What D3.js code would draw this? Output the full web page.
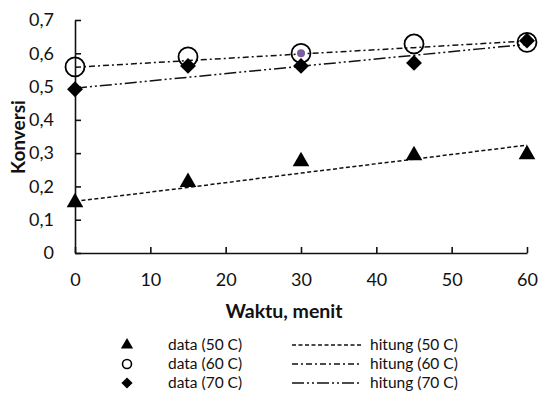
<!DOCTYPE html>
<html><head><meta charset="utf-8">
<script src="https://cdn.jsdelivr.net/npm/d3@7"></script>
<style>
html,body{margin:0;padding:0;background:#fff;}
svg{display:block;font-family:Lato,"Open Sans",sans-serif;}
</style></head>
<body><svg id="c" width="540" height="403"></svg>
<script>
const times = [0, 15, 30, 45, 60];
const data50 = [0.152, 0.213, 0.275, 0.293, 0.296];
const data60 = [0.559, 0.589, 0.600, 0.628, 0.633];
const data70 = [0.492, 0.562, 0.562, 0.571, 0.638];
const hitung50 = [0.155, 0.197, 0.240, 0.282, 0.324];
const hitung60 = [0.558, 0.578, 0.598, 0.617, 0.637];
const hitung70 = [0.495, 0.528, 0.561, 0.594, 0.627];
const extraPoint = {t: 30, v: 0.600};
const xTicks = [0, 10, 20, 30, 40, 50, 60];
const yTicks = [0, 0.1, 0.2, 0.3, 0.4, 0.5, 0.6, 0.7];
const legendLabels = ["data (50 C)", "data (60 C)", "data (70 C)"];
const legendLineLabels = ["hitung (50 C)", "hitung (60 C)", "hitung (70 C)"];

const svg = d3.select("#c");
const x = d3.scaleLinear().domain([0, 60]).range([75, 527]);
const y = d3.scaleLinear().domain([0, 0.7]).range([253, 20]);
const fmt = v => d3.format(".1f")(v).replace(".", ",");

// axes
const xAxis = svg.append("g").attr("transform", `translate(0,${y(0)})`)
  .call(d3.axisBottom(x).tickValues(xTicks).tickSizeInner(-6).tickSizeOuter(0).tickPadding(20));
const yAxis = svg.append("g").attr("transform", `translate(${x(0)},0)`)
  .call(d3.axisLeft(y).tickValues(yTicks).tickSizeInner(-6).tickSizeOuter(0).tickPadding(21)
    .tickFormat(v => v === 0 ? "0" : fmt(v)));
[xAxis, yAxis].forEach(a => {
  a.selectAll("path,line").attr("stroke", "#111").attr("stroke-width", 1.6);
  a.selectAll("text").attr("font-size", 18).attr("fill", "#111").attr("font-family", "Lato, sans-serif");
});

// lines
const dashes = ["4,2.5", "6,3,2,3", "12,3,2,3,2,3"];
const hitung = [hitung50, hitung60, hitung70];
const line = d3.line().x((d, i) => x(times[i])).y(d => y(d));
hitung.forEach((h, k) => {
  svg.append("path").datum(h).attr("d", line).attr("fill", "none")
    .attr("stroke", "#111").attr("stroke-width", 1.5).attr("stroke-dasharray", dashes[k]);
});

// markers
const tri = d3.symbol().type(d3.symbolTriangle).size(120);
svg.append("g").selectAll("path").data(data50).join("path")
  .attr("d", tri).attr("fill", "#000")
  .attr("transform", (d, i) => `translate(${x(times[i])},${y(d)})`);
svg.append("g").selectAll("circle").data(data60).join("circle")
  .attr("cx", (d, i) => x(times[i])).attr("cy", d => y(d)).attr("r", 9.5)
  .attr("fill", "none").attr("stroke", "#000").attr("stroke-width", 1.8);
svg.append("circle").attr("cx", x(extraPoint.t)).attr("cy", y(extraPoint.v)).attr("r", 4)
  .attr("fill", "#7b5e9e");
const dia = d3.symbol().type(d3.symbolDiamond2).size(160);
svg.append("g").selectAll("path").data(data70).join("path")
  .attr("d", dia).attr("fill", "#000")
  .attr("transform", (d, i) => `translate(${x(times[i])},${y(d)})`);

// axis titles
svg.append("text").attr("x", 284).attr("y", 318).attr("text-anchor", "middle")
  .attr("font-size", 19.5).attr("font-weight", "bold").attr("fill", "#111").text("Waktu, menit");
svg.append("text").attr("transform", "translate(25,137) rotate(-90)").attr("text-anchor", "middle")
  .attr("font-size", 19).attr("font-weight", "bold").attr("fill", "#111").text("Konversi");

// legend
const rows = [345, 364, 383];
const lg = svg.append("g");
const legSyms = [
  d3.symbol().type(d3.symbolTriangle).size(65)(),
  null,
  d3.symbol().type(d3.symbolDiamond2).size(80)()
];
rows.forEach((ry, k) => {
  if (k === 1) {
    lg.append("circle").attr("cx", 127).attr("cy", ry).attr("r", 4.5)
      .attr("fill", "none").attr("stroke", "#000").attr("stroke-width", 1.6);
  } else {
    lg.append("path").attr("d", legSyms[k]).attr("fill", "#000")
      .attr("transform", `translate(127,${ry})`);
  }
  lg.append("text").attr("x", 168).attr("y", ry).attr("dy", "0.35em")
    .attr("font-size", 15.5).attr("fill", "#111").text(legendLabels[k]);
  lg.append("line").attr("x1", 292).attr("x2", 362).attr("y1", ry).attr("y2", ry)
    .attr("stroke", "#111").attr("stroke-width", 1.5).attr("stroke-dasharray", dashes[k]);
  lg.append("text").attr("x", 370).attr("y", ry).attr("dy", "0.35em")
    .attr("font-size", 15.5).attr("fill", "#111").text(legendLineLabels[k]);
});
</script></body></html>
